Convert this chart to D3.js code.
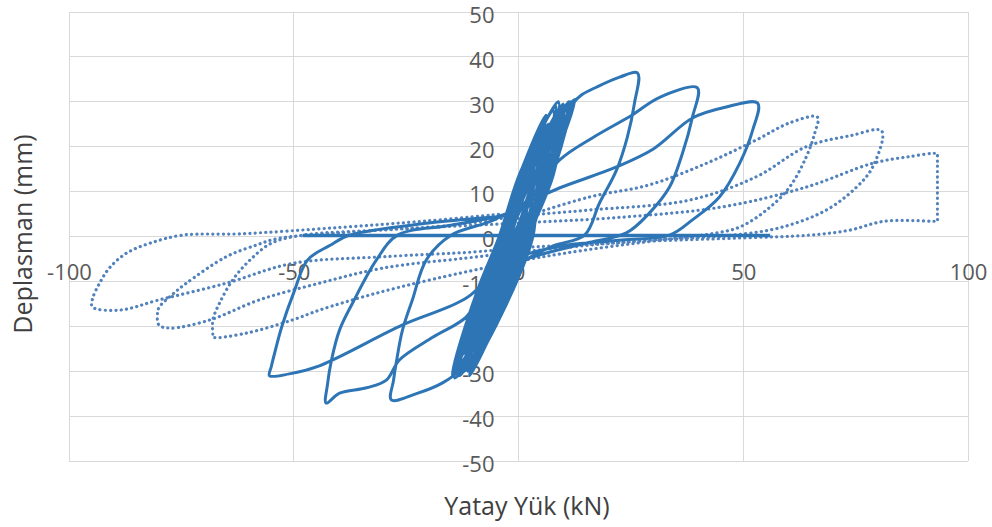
<!DOCTYPE html>
<html>
<head>
<meta charset="utf-8">
<script src="https://cdn.jsdelivr.net/npm/d3@7"></script>
<style>
  html, body { margin: 0; padding: 0; background: #ffffff; }
  svg { display: block; }
</style>
</head>
<body>
<script>
// ---------------- data ----------------
const xTicks = [-100, -50, 0, 50, 100];
const yTicks = [-50, -40, -30, -20, -10, 0, 10, 20, 30, 40, 50];
const xTitle = "Yatay Yük (kN)";
const yTitle = "Deplasman (mm)";

// solid series: horizontal segment at zero displacement
const zeroLoad = [-48, 56];
const zeroDisp = [0.2, 0.2];

// solid series: small early cycles (dense band around the origin)
const bandLoad = [0,
  1.52, 1.84, -0.48, -1.8, -3.36, -3.92, -1.36, 0.2,
  2.68, 3.16, -0.32, -2.3, -4.84, -5.87, -1.84, 0.7,
  3.84, 4.98, 0.84, -1.8, -5.12, -6.93, -2.12, 1.2,
  5.0, 6.05, 0.5, -2.8, -6.9, -8.74, -2.4, 1.7,
  6.0, 7.54, 1.5, -2.3, -6.98, -9.41, -2.48, 2.2,
  4.83, 6.7, 0.33, -3.8, -8.87, -11.69, -4.37, 0.7,
  7.16, 8.86, 1.66, -2.8, -8.26, -10.97, -2.76, 2.7,
  5.82, 7.69, 0.32, -4.3, -9.96, -12.86, -4.46, 1.2,
  7.49, 10.02, 2.99, -1.8, -7.65, -11.25, -3.15, 2.7,
  6.65, 8.85, 1.15, -3.8, -9.85, -13.14, -4.35, 1.7,
  7.95, 11.5, 1.65, -3.3, -9.44, -14.2, -3.14, 3.0,
  4.99, 8.3, 0.49, -4.3, -10.35, -14.7, -5.85, 0.2,
  7.23, 12.5, 2.73, -2.3, -8.15, -12, -3.65, 2.2,
  3.33, 5.46, 0.33, -3.3, -7.79, -10.77, -4.79, -0.3,
  6.49, 9.28, 3.49, -0.8, -6.07, -9.83, -3.07, 2.2,
  7.82, 9.94, 2.82, -1.8, -7.65, -11, -2.65, 3.2,
  4.16, 6.12, 0.16, -3.8, -8.87, -11.94, -4.87, 0.2,
  7.65, 11.1, 4.65, -0.3, -6.35, -10.89, -3.35, 2.7,
  3.16, 6.11, 0.16, -4.3, -9.96, -14.11, -6.96, -1.3,
  6.07, 9.94, 2.07, -2.8, -8.75, -13.6, -4.75, 1.2];
const bandDisp = [0,
  4, 8, 4, 0, -4, -8, -4, 0,
  6, 12, 6, 0, -6.5, -13, -6.5, 0,
  8, 16, 8, 0, -8.5, -17, -8.5, 0,
  10, 20, 10, 0, -10.5, -21, -10.5, 0,
  11.5, 23, 11.5, 0, -12, -24, -12, 0,
  12.5, 25, 12.5, 0, -13, -26, -13, 0,
  13.5, 27, 13.5, 0, -14, -28, -14, 0,
  14, 28, 14, 0, -14.5, -29, -14.5, 0,
  14.5, 29, 14.5, 0, -15, -30, -15, 0,
  15, 30, 15, 0, -15.5, -31, -15.5, 0,
  15, 30, 15, 0, -15.75, -31.5, -15.75, 0,
  14.5, 29, 14.5, 0, -15.5, -31, -15.5, 0,
  15.25, 30.5, 15.25, 0, -15, -30, -15, 0,
  11, 22, 11, 0, -11.5, -23, -11.5, 0,
  13, 26, 13, 0, -13.5, -27, -13.5, 0,
  14, 28, 14, 0, -15, -30, -15, 0,
  12, 24, 12, 0, -13, -26, -13, 0,
  15, 30, 15, 0, -15.5, -31, -15.5, 0,
  13.5, 27, 13.5, 0, -14.5, -29, -14.5, 0,
  14.75, 29.5, 14.75, 0, -15.25, -30.5, -15.25, 0];

// solid series: large loop A (peaks 26.5 / -28.3)
const loopALoad = [7, 10, 12, 14, 17.4, 22.5, 26.5,
  25.8, 24.2, 21.8, 18, 14.7, 8, 2, -4, -8, -11, -13.1, -16.9, -22.7, -28.3,
  -27.8, -27.1, -25.8, -23.6, -20.5, -15, -6, 2, 9.1, 16.5, 25.2, 31.4];
const loopADisp = [14.5, 25, 29.5, 31.5, 33.3, 35.5, 36.4,
  29.7, 22.1, 14.8, 7.4, 0.3, -2, -5, -10, -18, -25, -29.7, -32.6, -35, -36.4,
  -32, -27.5, -20.8, -14.1, -5.2, 0.3, 3.5, 8, 17, 22, 27, 31];

// solid series: large loop B (peaks 39.8 / -42.8)
const loopBLoad = [39.8,
  38.7, 36.5, 33.6, 29.1, 24, 15, 5, -3, -8, -11.6, -19, -26.5, -29.4, -33.8, -39.8, -42.8,
  -42.5, -41.6, -39.8, -36.9, -31.6, -26.9, -15, -3, 4, 9.1, 21.8, 30, 38.7, 46];
const loopBDisp = [33.1,
  26.6, 18.6, 11, 5.2, 0.8, -1.5, -4, -7, -12, -17.9, -22.4, -27.5, -32, -33.7, -34.9, -37.1,
  -33, -27.5, -20.8, -14.8, -5.2, 0.3, 2.5, 5, 8.5, 10.8, 15.5, 19.5, 26.4, 28.8];

// solid series: large loop C (peaks 53.2 / -55.4)
const loopCLoad = [53.2,
  52.1, 49.2, 44.7, 38.7, 33.6, 23, 8.5, -3, -11.6, -25.8, -44.3, -51, -55.4,
  -55, -54, -52.7, -50, -46.9, -42, -37.6, -20, -4, 0];
const loopCDisp = [29.7,
  23.7, 16.3, 8.8, 3.7, 0.3, -0.8, -2.3, -6, -13.7, -19.7, -28.8, -30.6, -31,
  -29, -25, -20.2, -12.5, -5.2, -2, 0.3, 3, 4.5, 5];

// dotted series: loop D1 (peaks 66.5 / -68)
const d1Load = [0, 15.8, 29.1, 41.8, 52.9, 60.3, 66.5,
  65.9, 64, 60.3, 55.2, 49.2, 44, 30, 15, 0, -19, -33, -44.3, -50.3, -60.5, -68,
  -68, -68, -66.5, -63.6, -60, -55, -48, -30, -15, 0, 15.8, 38, 52.9, 64, 74];
const d1Disp = [4, 8.8, 11.5, 16.3, 21.5, 25.3, 26.6,
  23, 17.7, 11, 5.9, 2.1, 0.8, -1, -3, -5.5, -9.5, -13, -16.4, -18.6, -21.5, -22.4,
  -21.8, -18.6, -14.8, -9.7, -5.5, -1.5, 0.3, 1.5, 2.5, 4.5, 5.9, 8.1, 13.3, 20, 22.5];

// dotted series: loop D2 (peaks 80.8 / -80)
const d2Load = [80.8,
  78.8, 75.2, 68.5, 58.7, 47.6, 30, 15, 0, -11.6, -30, -44.3, -57.6, -68.7, -77.6, -80,
  -80.3, -79.9, -76.5, -73.9, -65, -58, -53.8, -40, -20, 0, 23.1, 45.4, 64, 78.8, 87];
const d2Disp = [23.5,
  15.5, 11, 5.9, 2.1, 0.3, -0.8, -2, -3.5, -4.8, -7, -10.4, -14.1, -18.6, -20.4, -19.7,
  -17, -15.7, -12.5, -10.4, -4.5, -1.8, -0.5, 0.8, 2, 3, 4.3, 6.6, 11, 16.3, 17.8];

// dotted series: loop D3 (peaks 93.2 / -94.8)
const d3Load = [93.2, 93.2, 93.2, 93.2, 92.4, 81.4, 73.6, 64.7, 50, 30, 10, 0, -9.3, -30, -50.3, -65, -79.9, -88.8, -94.8,
  -94.8, -93.2, -91, -87.2, -82, -74.8, -62, -40, -20, -4];
const d3Disp = [18.4, 17.8, 4.0, 3.4, 3.4, 3.4, 1.4, 0.3, -0.3, -1, -2, -2.5, -3.4, -4.5, -6, -10.4, -14.1, -16.4, -15.7,
  -14, -10.4, -7, -3.7, -1.5, 0.3, 0.6, 2, 3.5, 5];

// ---------------- drawing ----------------
const W = 992, H = 527;
const plot = { left: 69, right: 968, top: 12, bottom: 461 };

const svg = d3.select("body").append("svg")
  .attr("width", W).attr("height", H)
  .style("font-family", "'Open Sans', 'Segoe UI', sans-serif");

const x = d3.scaleLinear().domain([-100, 100]).range([plot.left, plot.right]);
const y = d3.scaleLinear().domain([-50, 50]).range([plot.bottom, plot.top]);

const gridColor = "#D9D9D9";

svg.append("g").selectAll("line").data(yTicks).join("line")
  .attr("x1", plot.left).attr("x2", plot.right)
  .attr("y1", d => y(d)).attr("y2", d => y(d))
  .attr("stroke", gridColor).attr("stroke-width", 1).attr("shape-rendering", "crispEdges");

svg.append("g").selectAll("line").data(xTicks).join("line")
  .attr("x1", d => x(d)).attr("x2", d => x(d))
  .attr("y1", plot.top).attr("y2", plot.bottom)
  .attr("stroke", gridColor).attr("stroke-width", 1).attr("shape-rendering", "crispEdges");

const fmt = d => String(d);

const xAxis = svg.append("g")
  .attr("transform", `translate(0,${y(0)})`)
  .call(d3.axisBottom(x).tickValues(xTicks).tickSize(0).tickPadding(28).tickFormat(fmt));
xAxis.select(".domain").remove();
xAxis.selectAll("text").attr("font-size", 22).attr("fill", "#595959")
  .style("font-family", "'Open Sans', sans-serif");

const yAxis = svg.append("g")
  .attr("transform", `translate(${x(0)},0)`)
  .call(d3.axisLeft(y).tickValues(yTicks).tickSize(0).tickPadding(24).tickFormat(fmt));
yAxis.select(".domain").remove();
yAxis.selectAll("text").attr("font-size", 22).attr("fill", "#595959").attr("dy", "0.47em")
  .style("font-family", "'Open Sans', sans-serif");

const zip = (a, b) => a.map((v, i) => [v, b[i]]);
const line = d3.line()
  .x(d => x(d[0])).y(d => y(d[1]))
  .curve(d3.curveCatmullRom.alpha(0.5));

const dottedPts = zip(d1Load.concat(d2Load, d3Load), d1Disp.concat(d2Disp, d3Disp));
const solidPts = zip(bandLoad.concat(loopALoad, loopBLoad, loopCLoad),
                     bandDisp.concat(loopADisp, loopBDisp, loopCDisp));

svg.append("path")
  .datum(dottedPts)
  .attr("d", line)
  .attr("fill", "none")
  .attr("stroke", "#5282BC")
  .attr("stroke-width", 3.2)
  .attr("stroke-linecap", "round")
  .attr("stroke-dasharray", "0.1 5.2");

svg.append("path")
  .datum(zip(zeroLoad, zeroDisp))
  .attr("d", line)
  .attr("fill", "none")
  .attr("stroke", "#2E75B6")
  .attr("stroke-width", 3.5);

svg.append("path")
  .datum(solidPts)
  .attr("d", line)
  .attr("fill", "none")
  .attr("stroke", "#2E75B6")
  .attr("stroke-width", 3)
  .attr("stroke-linejoin", "round");

svg.append("text")
  .attr("x", 527).attr("y", 515)
  .attr("text-anchor", "middle")
  .attr("font-size", 25).attr("fill", "#404040")
  .text(xTitle);

svg.append("text")
  .attr("transform", "translate(32,234) rotate(-90)")
  .attr("text-anchor", "middle")
  .attr("font-size", 25).attr("fill", "#404040")
  .text(yTitle);
</script>
</body>
</html>
